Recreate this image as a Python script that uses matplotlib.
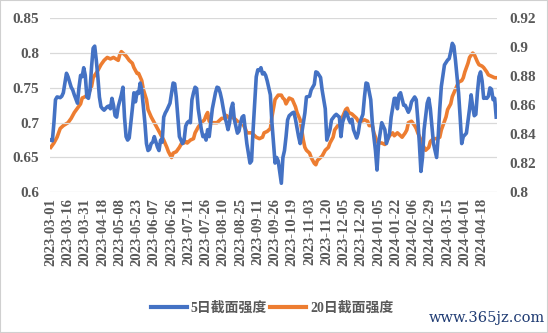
import matplotlib
matplotlib.use("Agg")
import matplotlib.pyplot as plt
from matplotlib.patches import Rectangle
from matplotlib.lines import Line2D

n_days = 285
tick_labels = ["2023-03-01", "2023-03-16", "2023-03-31", "2023-04-18", "2023-05-08",
               "2023-05-23", "2023-06-07", "2023-06-26", "2023-07-11", "2023-07-26",
               "2023-08-10", "2023-08-25", "2023-09-11", "2023-09-26", "2023-10-19",
               "2023-11-03", "2023-11-20", "2023-12-05", "2023-12-20", "2024-01-05",
               "2024-01-22", "2024-02-06", "2024-02-29", "2024-03-15", "2024-04-01",
               "2024-04-18"]
tick_step = 11

days_5d = [0, 1, 2, 3, 4, 6, 7, 8, 9, 10, 11, 13, 14, 15, 17, 18, 19, 20, 21, 22, 23, 24, 25, 26, 27, 28, 29, 30,
           31, 32, 33, 34, 36, 37, 38, 39, 40, 41, 42, 43, 45, 46, 47, 48, 49, 50, 52, 53, 54, 55, 56, 57, 58, 59,
           60, 61, 62, 63, 64, 65, 66, 68, 69, 70, 71, 72, 73, 74, 75, 76, 77, 78, 79, 80, 81, 82, 84, 85, 86, 87,
           88, 89, 90, 91, 92, 93, 94, 96, 97, 98, 99, 100, 101, 102, 103, 105, 106, 107, 108, 109, 110, 111, 112,
           113, 114, 115, 116, 117, 119, 120, 121, 122, 123, 124, 125, 126, 127, 128, 129, 130, 131, 132, 133, 134,
           135, 136, 137, 138, 140, 141, 142, 143, 144, 145, 147, 148, 149, 150, 151, 152, 154, 155, 156, 158, 159,
           161, 162, 163, 165, 166, 168, 169, 170, 172, 173, 175, 176, 178, 179, 181, 182, 184, 185, 186, 188, 189,
           190, 191, 192, 193, 195, 196, 197, 199, 200, 201, 202, 204, 205, 207, 208, 209, 211, 212, 213, 214, 216,
           217, 219, 220, 221, 222, 223, 225, 226, 228, 229, 230, 232, 233, 234, 235, 236, 237, 238, 240, 241, 242,
           243, 244, 245, 246, 247, 248, 249, 251, 253, 254, 255, 256, 257, 258, 259, 260, 261, 262, 263, 265, 267,
           268, 269, 270, 271, 272, 273, 274, 275, 276, 277, 278, 279, 280, 281, 282, 283, 284]
vals_5d = [0.675, 0.674, 0.700, 0.733, 0.737, 0.736, 0.738, 0.743, 0.757, 0.771, 0.766, 0.751, 0.747, 0.740, 0.728,
           0.751, 0.768, 0.766, 0.779, 0.768, 0.737, 0.735, 0.747, 0.780, 0.807, 0.810, 0.790, 0.766, 0.737, 0.723,
           0.720, 0.718, 0.723, 0.724, 0.720, 0.735, 0.725, 0.710, 0.708, 0.723, 0.740, 0.751, 0.708, 0.680, 0.675,
           0.678, 0.720, 0.743, 0.730, 0.744, 0.742, 0.757, 0.747, 0.723, 0.700, 0.670, 0.660, 0.662, 0.670, 0.672,
           0.680, 0.665, 0.660, 0.675, 0.672, 0.708, 0.714, 0.718, 0.723, 0.728, 0.743, 0.757, 0.756, 0.737, 0.708,
           0.680, 0.670, 0.675, 0.695, 0.700, 0.702, 0.700, 0.733, 0.743, 0.751, 0.749, 0.720, 0.690, 0.680, 0.682,
           0.675, 0.690, 0.680, 0.700, 0.720, 0.743, 0.751, 0.750, 0.743, 0.733, 0.720, 0.708, 0.700, 0.690, 0.700,
           0.720, 0.728, 0.705, 0.685, 0.688, 0.700, 0.708, 0.710, 0.690, 0.670, 0.656, 0.642, 0.645, 0.690, 0.728,
           0.766, 0.776, 0.775, 0.779, 0.770, 0.772, 0.768, 0.760, 0.740, 0.700, 0.670, 0.642, 0.650, 0.645, 0.613,
           0.650, 0.660, 0.680, 0.704, 0.710, 0.714, 0.715, 0.705, 0.680, 0.670, 0.700, 0.714, 0.737, 0.738, 0.747,
           0.755, 0.773, 0.772, 0.765, 0.747, 0.720, 0.675, 0.690, 0.704, 0.710, 0.712, 0.708, 0.680, 0.700, 0.715,
           0.712, 0.705, 0.700, 0.705, 0.690, 0.678, 0.685, 0.700, 0.712, 0.737, 0.757, 0.756, 0.733, 0.700, 0.660,
           0.632, 0.670, 0.700, 0.695, 0.690, 0.670, 0.685, 0.708, 0.735, 0.735, 0.720, 0.740, 0.743, 0.725, 0.725,
           0.715, 0.720, 0.730, 0.737, 0.733, 0.705, 0.670, 0.630, 0.650, 0.690, 0.728, 0.735, 0.720, 0.695, 0.670,
           0.660, 0.650, 0.680, 0.720, 0.752, 0.783, 0.790, 0.792, 0.802, 0.814, 0.810, 0.790, 0.766, 0.743, 0.708,
           0.670, 0.680, 0.685, 0.720, 0.740, 0.723, 0.710, 0.712, 0.743, 0.766, 0.773, 0.760, 0.735, 0.736, 0.735,
           0.738, 0.750, 0.748, 0.733, 0.735, 0.708]

days_20d = [0, 2, 4, 6, 8, 11, 13, 15, 17, 19, 20, 22, 24, 26, 27, 30, 32, 34, 36, 38, 40, 43, 44, 45, 47, 48, 50,
            52, 53, 55, 56, 58, 59, 61, 62, 64, 66, 68, 69, 71, 72, 74, 75, 77, 78, 80, 82, 84, 85, 86, 87, 89, 91,
            92, 94, 96, 98, 99, 100, 101, 103, 104, 106, 107, 109, 111, 112, 114, 115, 117, 119, 120, 122, 124, 125,
            127, 128, 130, 131, 133, 135, 136, 138, 140, 141, 143, 145, 147, 148, 149, 150, 152, 154, 156, 157, 159,
            160, 161, 162, 163, 165, 166, 168, 169, 170, 172, 173, 175, 177, 178, 180, 181, 183, 185, 186, 188, 189,
            190, 192, 194, 195, 196, 198, 200, 202, 203, 205, 206, 208, 209, 211, 213, 214, 216, 218, 219, 221, 222,
            224, 226, 227, 228, 230, 232, 233, 234, 236, 237, 239, 241, 242, 244, 246, 248, 249, 250, 252, 253, 255,
            256, 258, 260, 262, 263, 264, 266, 267, 269, 270, 272, 273, 275, 276, 278, 279, 281, 283, 284]
vals_20d = [0.831, 0.834, 0.838, 0.844, 0.846, 0.848, 0.851, 0.855, 0.858, 0.861, 0.865, 0.866, 0.868, 0.873,
            0.879, 0.884, 0.888, 0.891, 0.893, 0.892, 0.893, 0.891, 0.895, 0.897, 0.895, 0.894, 0.891, 0.889, 0.886,
            0.882, 0.882, 0.877, 0.871, 0.864, 0.857, 0.852, 0.848, 0.844, 0.842, 0.838, 0.836, 0.831, 0.828, 0.824,
            0.827, 0.828, 0.831, 0.835, 0.834, 0.835, 0.834, 0.836, 0.837, 0.841, 0.845, 0.848, 0.850, 0.853, 0.855,
            0.849, 0.848, 0.848, 0.848, 0.849, 0.851, 0.851, 0.853, 0.851, 0.852, 0.851, 0.849, 0.848, 0.848, 0.844,
            0.841, 0.841, 0.841, 0.839, 0.838, 0.837, 0.838, 0.841, 0.842, 0.844, 0.852, 0.864, 0.867, 0.867, 0.865,
            0.864, 0.861, 0.865, 0.864, 0.859, 0.855, 0.850, 0.843, 0.836, 0.831, 0.829, 0.827, 0.824, 0.820, 0.819,
            0.822, 0.824, 0.825, 0.829, 0.831, 0.834, 0.838, 0.843, 0.846, 0.848, 0.852, 0.857, 0.858, 0.855, 0.854,
            0.852, 0.851, 0.849, 0.849, 0.850, 0.849, 0.846, 0.846, 0.841, 0.835, 0.834, 0.834, 0.833, 0.835, 0.839,
            0.841, 0.839, 0.841, 0.840, 0.838, 0.841, 0.843, 0.848, 0.849, 0.846, 0.844, 0.841, 0.836, 0.833, 0.829,
            0.831, 0.835, 0.837, 0.837, 0.838, 0.843, 0.846, 0.852, 0.857, 0.861, 0.866, 0.871, 0.876, 0.877, 0.879,
            0.883, 0.889, 0.893, 0.896, 0.895, 0.890, 0.888, 0.887, 0.886, 0.883, 0.881, 0.880, 0.879, 0.879]

series_names = ["5日截面强度", "20日截面强度"]
left_ticks = [0.6, 0.65, 0.7, 0.75, 0.8, 0.85]
right_ticks = [0.8, 0.82, 0.84, 0.86, 0.88, 0.9, 0.92]

BLUE = "#4472C4"
ORANGE = "#ED7D31"
GRAY = "#595959"
GRID = "#D9D9D9"
SERIF = ["Liberation Serif", "Noto Sans CJK SC"]

fig = plt.figure(figsize=(5.48, 3.33), dpi=100)
ax = fig.add_axes([50 / 548, 1 - 192.3 / 333, 447 / 548, (192.3 - 18.3) / 333])
ax2 = ax.twinx()

ax.plot(days_5d, vals_5d, color=BLUE, lw=2.6, solid_joinstyle="round", zorder=3)
ax2.plot(days_20d, vals_20d, color=ORANGE, lw=2.6, solid_joinstyle="round", zorder=3)
ax.set_zorder(ax2.get_zorder() + 1)
ax.patch.set_visible(False)

ax.set_xlim(-0.5, n_days - 0.5)
ax.set_ylim(0.6, 0.85)
ax2.set_ylim(0.8, 0.92)
ax.set_yticks(left_ticks)
ax.set_yticklabels([f"{v:g}" for v in left_ticks])
ax2.set_yticks(right_ticks)
ax2.set_yticklabels([f"{v:g}" for v in right_ticks])
ax.set_xticks(range(0, len(tick_labels) * tick_step, tick_step))
ax.set_xticklabels(tick_labels, rotation=90)

ax.grid(axis="y", color=GRID, lw=0.9)
ax.set_axisbelow(True)
for a in (ax, ax2):
    for s in a.spines.values():
        s.set_visible(False)
    a.tick_params(length=0)
ax.tick_params(axis="y", pad=8)
ax2.tick_params(axis="y", pad=9)
ax.tick_params(axis="x", pad=4)
for lab in ax.get_yticklabels() + ax2.get_yticklabels():
    lab.set_fontfamily(SERIF)
    lab.set_fontweight("bold")
    lab.set_fontsize(11)
    lab.set_color(GRAY)
for lab in ax.get_xticklabels():
    lab.set_fontfamily(SERIF)
    lab.set_fontweight("bold")
    lab.set_fontsize(10.5)
    lab.set_color(GRAY)

handles = [Line2D([], [], color=BLUE, lw=3), Line2D([], [], color=ORANGE, lw=3)]
fig.legend(handles, series_names, loc="center", bbox_to_anchor=(272 / 548, 1 - 308 / 333),
           ncol=2, frameon=False, handlelength=2.6, handletextpad=0.3, columnspacing=0.2,
           prop={"family": SERIF, "weight": "bold", "size": 10}, labelcolor=GRAY)

fig.text(0.995, 1 - 318 / 333, "www.365jz.com", ha="right", va="center", fontsize=10.5,
         color="#1F3B73", family="DejaVu Serif")
fig.patches.append(Rectangle((0, 0), 1, 1, transform=fig.transFigure, fill=False,
                             ec="#D0D0D0", lw=1.5))

fig.savefig("out.png", dpi=100)
